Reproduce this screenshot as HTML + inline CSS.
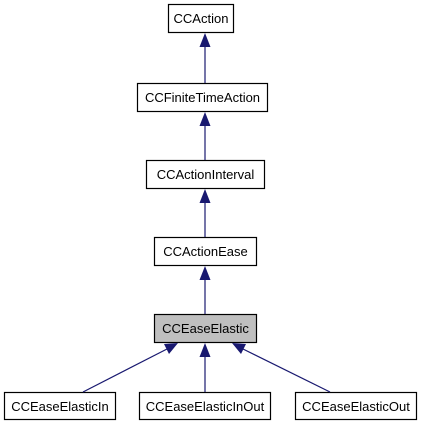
<!DOCTYPE html>
<html><head><style>body{margin:0;background:#fff}</style></head><body>
<svg width="421" height="427" xmlns="http://www.w3.org/2000/svg" font-family="Liberation Sans, sans-serif" font-size="13">
<g fill="#fff" stroke="#000" stroke-width="1.2">
<rect x="168.5" y="4.5" width="65" height="28"/>
<rect x="137.5" y="83.5" width="130" height="28"/>
<rect x="146.5" y="160.5" width="118" height="28"/>
<rect x="154.5" y="237.5" width="102" height="28"/>
<rect x="154.5" y="314.5" width="102" height="28" fill="#bfbfbf"/>
<rect x="4.5" y="392.5" width="111" height="27"/>
<rect x="139.5" y="392.5" width="131" height="27"/>
<rect x="295.5" y="392.5" width="121" height="27"/>
</g>
<g text-anchor="middle" fill="#000">
<text x="201" y="23">CCAction</text>
<text x="202.5" y="102">CCFiniteTimeAction</text>
<text x="205.5" y="179">CCActionInterval</text>
<text x="205.5" y="256">CCActionEase</text>
<text x="205.5" y="333">CCEaseElastic</text>
<text x="60" y="411">CCEaseElasticIn</text>
<text x="205" y="411">CCEaseElasticInOut</text>
<text x="356" y="411">CCEaseElasticOut</text>
</g>
<g stroke="#191970" stroke-width="1.2">
<line x1="205" y1="45" x2="205" y2="83"/>
<line x1="205" y1="124" x2="205" y2="160"/>
<line x1="205" y1="201" x2="205" y2="237"/>
<line x1="205" y1="278" x2="205" y2="314"/>
<line x1="205" y1="355" x2="205" y2="392"/>
<line x1="83" y1="392" x2="167" y2="349"/>
<line x1="330" y1="392" x2="243" y2="349"/>
</g>
<g fill="#191970">
<polygon points="205,33 199.5,47 210.5,47"/>
<polygon points="205,112 199.5,126 210.5,126"/>
<polygon points="205,189 199.5,203 210.5,203"/>
<polygon points="205,266 199.5,280 210.5,280"/>
<polygon points="205,343 199.5,357 210.5,357"/>
<polygon points="178,343 164,344 169,354"/>
<polygon points="232,343 241,354 246,344"/>
</g>
</svg>
</body></html>
